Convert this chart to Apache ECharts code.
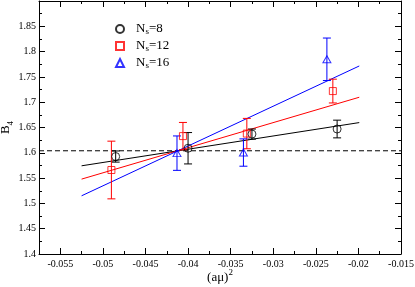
<!DOCTYPE html>
<html><head><meta charset="utf-8">
<script src="https://cdn.jsdelivr.net/npm/echarts@6/dist/echarts.min.js"></script>
<style>html,body{margin:0;padding:0;background:#fff}#c{width:415px;height:287px}</style>
</head><body><div id="c"></div>
<script>
// ---- data ----
const xTickLabels = [-0.055, -0.05, -0.045, -0.04, -0.035, -0.03, -0.025, -0.02, -0.015];
const xMinorTicks = [-0.0575, -0.0525, -0.0475, -0.0425, -0.0375, -0.0325, -0.0275, -0.0225, -0.0175];
const yMajorTicks = [1.4, 1.45, 1.5, 1.55, 1.6, 1.65, 1.7, 1.75, 1.8, 1.85, 1.9];
const yTickLabels = [1.4, 1.45, 1.5, 1.55, 1.6, 1.65, 1.7, 1.75, 1.8, 1.85];
const yMinorTicks = [1.425, 1.475, 1.525, 1.575, 1.625, 1.675, 1.725, 1.775, 1.825, 1.875];
const xRange = [-0.0575, -0.015];
const yRange = [1.4, 1.9];

const seriesNames = ['Ns=8', 'Ns=12', 'Ns=16'];

const ns8X   = [-0.0485, -0.0400, -0.0325, -0.0225];
const ns8Y   = [1.5926, 1.609, 1.637, 1.647];
const ns8Err = [0.011, 0.031, 0.010, 0.0175];

const ns12X   = [-0.0490, -0.0406, -0.0331, -0.0230];
const ns12Y   = [1.566, 1.633, 1.638, 1.722];
const ns12Err = [0.057, 0.027, 0.030, 0.0235];

const ns16X   = [-0.0413, -0.0335, -0.0237];
const ns16Y   = [1.5993, 1.6005, 1.7848];
const ns16Err = [0.034, 0.027, 0.042];

const fitX   = [-0.0525, -0.0199];
const fit8Y  = [1.5743, 1.6597];
const fit12Y = [1.548, 1.7098];
const fit16Y = [1.515, 1.7716];

const refLineY = 1.604;

// ---- chart ----
const FONT = '"Liberation Serif", "Times New Roman", serif';
const chart = echarts.init(document.getElementById('c'), null, {renderer: 'canvas'});

function axisX(gridIndex, position, ticks, len, showLabel, showLine) {
  return {
    type: 'value', gridIndex, position, min: xRange[0], max: xRange[1],
    axisLine: {show: showLine, onZero: false, lineStyle: {color: '#000', width: 1}},
    axisTick: {show: true, inside: true, length: len, customValues: ticks, lineStyle: {color: '#000', width: 1}},
    axisLabel: showLabel ? {show: true, customValues: xTickLabels, color: '#000', fontFamily: FONT, fontSize: 10, margin: 5,
      formatter: v => String(v)} : {show: false},
    splitLine: {show: false}
  };
}
function axisY(gridIndex, position, ticks, len, showLabel, showLine) {
  return {
    type: 'value', gridIndex, position, min: yRange[0], max: yRange[1],
    axisLine: {show: showLine, onZero: false, lineStyle: {color: '#000', width: 1}},
    axisTick: {show: true, inside: true, length: len, customValues: ticks, lineStyle: {color: '#000', width: 1}},
    axisLabel: showLabel ? {show: true, customValues: yTickLabels, color: '#000', fontFamily: FONT, fontSize: 10, margin: 3,
      formatter: v => String(v)} : {show: false},
    splitLine: {show: false}
  };
}

function errSeries(name, xs, ys, es, color) {
  return {
    type: 'custom', name, xAxisIndex: 0, yAxisIndex: 0, silent: true, z: 3,
    data: xs.map((x, i) => [x, ys[i], es[i]]),
    encode: {x: 0, y: 1},
    renderItem: (params, api) => {
      const x = api.value(0), y = api.value(1), e = api.value(2);
      const t = api.coord([x, y + e]), b = api.coord([x, y - e]);
      const w = 4;
      const st = {stroke: color, lineWidth: 1};
      return {type: 'group', children: [
        {type: 'line', shape: {x1: t[0], y1: t[1], x2: b[0], y2: b[1]}, style: st},
        {type: 'line', shape: {x1: t[0] - w, y1: t[1], x2: t[0] + w, y2: t[1]}, style: st},
        {type: 'line', shape: {x1: b[0] - w, y1: b[1], x2: b[0] + w, y2: b[1]}, style: st}
      ]};
    }
  };
}
function pointSeries(name, xs, ys, color, symbol, size) {
  return {
    type: 'scatter', name, xAxisIndex: 0, yAxisIndex: 0, z: 4,
    symbol, symbolSize: size,
    itemStyle: {color: 'rgba(0,0,0,0)', borderColor: color, borderWidth: 1},
    data: xs.map((x, i) => [x, ys[i]])
  };
}
function fitSeries(name, ys, color) {
  return {
    type: 'line', name, xAxisIndex: 0, yAxisIndex: 0, z: 2, symbol: 'none', silent: true,
    lineStyle: {color, width: 1},
    data: fitX.map((x, i) => [x, ys[i]])
  };
}

const gridRect = {left: 39, right: 14, top: 1, bottom: 33, containLabel: false, outerBoundsMode: 'none'};

const option = {
  animation: false,
  backgroundColor: '#fff',
  grid: [Object.assign({}, gridRect), Object.assign({}, gridRect)],
  xAxis: [
    Object.assign(axisX(0, 'bottom', xTickLabels, 6, true, true), {
      name: '{a|(aμ)}{b|2}', nameLocation: 'middle', nameGap: 14, nameMoveOverlap: false,
      nameTextStyle: {color: '#000', fontFamily: FONT, rich: {
        a: {fontSize: 13, fontFamily: FONT, color: '#000', lineHeight: 16, verticalAlign: 'bottom'},
        b: {fontSize: 9, fontFamily: FONT, color: '#000', lineHeight: 10, verticalAlign: 'top'}
      }}
    }),
    axisX(0, 'top', xTickLabels, 6, false, true),
    axisX(1, 'bottom', xMinorTicks, 3, false, false),
    axisX(1, 'top', xMinorTicks, 3, false, false)
  ],
  yAxis: [
    Object.assign(axisY(0, 'left', yMajorTicks, 6, true, true), {
      name: '{a|B}{b|4}', nameLocation: 'middle', nameGap: 24, nameRotate: 90, nameMoveOverlap: false,
      nameTextStyle: {color: '#000', fontFamily: FONT, rich: {
        a: {fontSize: 13, fontFamily: FONT, color: '#000', lineHeight: 16, verticalAlign: 'top'},
        b: {fontSize: 9, fontFamily: FONT, color: '#000', lineHeight: 10, verticalAlign: 'bottom'}
      }}
    }),
    axisY(0, 'right', yMajorTicks, 6, false, true),
    axisY(1, 'left', yMinorTicks, 3, false, false),
    axisY(1, 'right', yMinorTicks, 3, false, false)
  ],
  legend: {
    orient: 'vertical', left: 110, top: 17.5, itemWidth: 8, itemHeight: 8, itemGap: 3,
    data: seriesNames,
    selectedMode: false,
    formatter: name => '{f|N}{s|s}{n|=' + name.split('=')[1] + '}',
    textStyle: {color: '#000', fontFamily: FONT, rich: {
      f: {fontSize: 13, fontFamily: FONT, color: '#000', lineHeight: 15, padding: [0, 0, 0, 7]},
      n: {fontSize: 13, fontFamily: FONT, color: '#000', lineHeight: 15},
      s: {fontSize: 9, fontFamily: FONT, color: '#000', lineHeight: 9, verticalAlign: 'bottom'}
    }}
  },
  series: [
    {
      type: 'line', name: 'ref', xAxisIndex: 0, yAxisIndex: 0, symbol: 'none', silent: true, z: 1,
      lineStyle: {color: '#000', width: 1, type: [5, 3]},
      data: xRange.map(x => [x, refLineY])
    },
    fitSeries('fit8', fit8Y, '#000000'),
    fitSeries('fit12', fit12Y, '#ff0000'),
    fitSeries('fit16', fit16Y, '#0000ff'),
    errSeries('err8', ns8X, ns8Y, ns8Err, '#000000'),
    errSeries('err12', ns12X, ns12Y, ns12Err, '#ff0000'),
    errSeries('err16', ns16X, ns16Y, ns16Err, '#0000ff'),
    pointSeries(seriesNames[0], ns8X, ns8Y, '#000000', 'circle', 8),
    pointSeries(seriesNames[1], ns12X, ns12Y, '#ff0000', 'rect', 7),
    pointSeries(seriesNames[2], ns16X, ns16Y, '#0000ff', 'triangle', [8, 7])
  ]
};
chart.setOption(option);
</script>
</body></html>
